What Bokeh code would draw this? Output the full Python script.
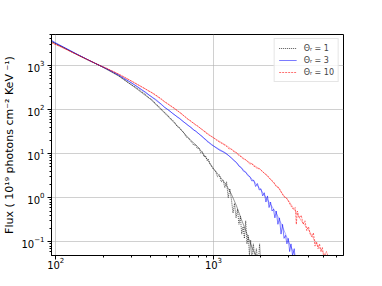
from bokeh.plotting import figure
from bokeh.models import FixedTicker, Legend, LegendItem, Label, LogTickFormatter
from bokeh.embed import file_html
from bokeh.resources import INLINE

# ---- data ----
e_t1 = [94, 100, 110, 120, 135, 150, 170, 190, 210, 230, 250, 270, 290, 310, 330, 350, 370, 390, 410, 430,
        450, 470, 490, 510, 530, 550, 570, 590, 610, 630, 650, 670, 690, 710, 730, 750, 770, 790, 810, 830,
        850, 870, 890, 910, 930, 950, 970, 1000, 1030, 1060, 1090, 1120, 1150, 1180, 1210, 1240, 1270, 1300,
        1330, 1360, 1390, 1420, 1450, 1480, 1510, 1540, 1570, 1600, 1630, 1660, 1690, 1720, 1750, 1790, 1830,
        1870, 1920, 1960, 2000]
f_t1 = [3500, 3100, 2650, 2250, 1800, 1500, 1200, 1000, 840, 700, 590, 485, 400, 345, 300, 255, 222, 185, 165, 135,
        118, 100, 86, 76, 64, 58, 50, 41, 39, 33, 30, 24, 23, 20, 18, 15.5, 16, 13, 13.5, 10.5,
        11, 8.5, 9, 7, 7.4, 5.8, 5.2, 4.4, 4.0, 3.0, 3.3, 2.3, 2.5, 1.7, 2.3, 1.0, 1.6, 0.9,
        0.45, 0.75, 0.35, 0.55, 0.25, 0.38, 0.15, 0.22, 0.12, 0.3, 0.09, 0.14, 0.05, 0.11, 0.04, 0.09, 0.04,
        0.07, 0.03, 0.09, 0.03]

e_t3 = [94, 100, 110, 120, 135, 150, 170, 190, 210, 230, 250, 270, 290, 310, 330, 350, 370, 390, 410, 430,
        450, 470, 490, 510, 530, 550, 570, 590, 610, 630, 650, 670, 690, 710, 730, 750, 770, 790, 810, 830,
        850, 870, 890, 910, 930, 950, 970, 1000, 1050, 1100, 1150, 1200, 1250, 1300, 1350, 1400, 1450, 1500,
        1550, 1600, 1650, 1700, 1750, 1800, 1850, 1900, 1950, 2000, 2050, 2100, 2150, 2200, 2250, 2300, 2350,
        2400, 2450, 2500, 2560, 2620, 2680, 2740, 2800, 2860, 2920, 2980, 3040, 3100, 3170, 3250, 3300]
f_t3 = [3700, 3200, 2700, 2300, 1830, 1520, 1210, 1000, 850, 720, 610, 510, 440, 380, 330, 285, 250, 215, 190, 170,
        148, 130, 112, 102, 92, 82, 75, 68, 63, 57, 52, 48, 44, 41, 38, 34, 33, 30, 28, 26,
        24.5, 22, 21, 19, 18, 17, 16, 15, 13.2, 11.8, 11, 10, 9, 8, 7, 6.3, 5.2, 4.8,
        4.0, 3.8, 3.2, 3.0, 2.4, 2.5, 1.8, 2.1, 1.5, 1.6, 1.1, 1.3, 0.8, 1.1, 0.6, 0.8, 0.5,
        0.55, 0.35, 0.5, 0.25, 0.35, 0.15, 0.25, 0.12, 0.14, 0.09, 0.12, 0.06, 0.09, 0.05, 0.07, 0.04]

e_t10 = [94, 100, 110, 120, 135, 150, 170, 190, 210, 230, 250, 270, 290, 310, 330, 350, 370, 390, 410, 430,
         450, 470, 490, 510, 530, 550, 570, 590, 610, 630, 650, 670, 690, 710, 730, 750, 770, 790, 810, 830,
         850, 870, 890, 910, 930, 950, 970, 1000, 1050, 1100, 1150, 1200, 1250, 1300, 1350, 1400, 1450, 1500,
         1550, 1600, 1650, 1700, 1750, 1800, 1850, 1900, 1950, 2000, 2100, 2200, 2300, 2400, 2500, 2600, 2700,
         2800, 2900, 3000, 3100, 3200, 3300, 3350, 3400, 3500, 3600, 3700, 3800, 3900, 4000, 4100, 4200, 4300,
         4400, 4500, 4600, 4700, 4800, 4900, 5000, 5200, 5400]
f_t10 = [3300, 3000, 2600, 2200, 1800, 1500, 1220, 1000, 870, 740, 640, 550, 480, 420, 370, 330, 295, 262, 240, 215,
         192, 172, 150, 138, 125, 115, 105, 95, 87, 80, 72, 66, 60, 57, 52, 49, 45, 43, 40, 37,
         35, 32, 31, 28, 27, 25, 24.5, 23, 20, 18, 16.5, 15, 13, 12.5, 11, 10.5, 9, 8.5,
         7.5, 7.3, 6.5, 5.8, 6.0, 5.2, 5.0, 4.5, 4.6, 4.2, 3.6, 3.2, 2.6, 2.3, 1.8, 1.7, 1.3,
         1.05, 1.0, 0.8, 0.65, 0.55, 0.6, 0.25, 0.5, 0.35, 0.4, 0.25, 0.3, 0.18, 0.22, 0.15, 0.13, 0.16,
         0.08, 0.1, 0.07, 0.09, 0.06, 0.075, 0.045, 0.06, 0.04]

# smooth fits
s_e1 = [94, 120, 150, 190, 250, 300, 400, 500, 600, 700, 800, 900, 1000, 1100, 1200, 1300, 1400, 1500, 1600, 1700, 1800, 2000]
s_f1 = [3500, 2250, 1500, 1000, 580, 370, 170, 78, 40, 22, 14, 8, 4.6, 3.0, 2.0, 1.2, 0.65, 0.33, 0.18, 0.1, 0.06, 0.035]
s_e3 = [94, 120, 150, 190, 250, 300, 400, 500, 600, 700, 800, 1000, 1200, 1400, 1600, 1800, 2000, 2200, 2500, 2700, 3000, 3200, 3300]
s_f3 = [3700, 2300, 1520, 1000, 610, 410, 200, 107, 65, 42, 29, 15, 10.3, 6.2, 3.8, 2.4, 1.5, 0.9, 0.45, 0.25, 0.1, 0.06, 0.045]
s_e10 = [94, 120, 150, 190, 250, 300, 400, 500, 600, 700, 800, 1000, 1200, 1400, 1600, 1800, 2000, 2300, 2600, 2800, 3000,
         3300, 3600, 4000, 4300, 4600, 5000, 5300]
s_f10 = [3300, 2200, 1500, 1000, 640, 450, 250, 143, 90, 58, 41, 23, 15.5, 10.5, 7.2, 5.5, 4.3, 2.6, 1.6, 1.1, 0.85,
         0.5, 0.3, 0.19, 0.12, 0.08, 0.055, 0.045]

labels = ["\u0398\u1d63 = 1", "\u0398\u1d63 = 3", "\u0398\u1d63 = 10"]

x_major = [100, 1000]
x_minor = [200, 300, 400, 500, 600, 700, 800, 900, 2000, 3000, 4000, 5000, 6000]
y_major = [0.1, 1, 10, 100, 1000]
y_minor = [0.06, 0.07, 0.08, 0.09, 0.2, 0.3, 0.4, 0.5, 0.6, 0.7, 0.8, 0.9,
           2, 3, 4, 5, 6, 7, 8, 9, 20, 30, 40, 50, 60, 70, 80, 90,
           200, 300, 400, 500, 600, 700, 800, 900, 2000, 3000, 4000, 5000]

FONT = "DejaVu Sans"

p = figure(width=382, height=286, x_axis_type="log", y_axis_type="log",
           x_range=(94, 6670), y_range=(0.049, 5050),
           output_backend="svg", toolbar_location=None)
p.min_border_left = 47
p.min_border_right = 39
p.min_border_top = 34
p.min_border_bottom = 31
p.outline_line_color = "black"
p.outline_line_alpha = 1
p.outline_line_width = 1
p.background_fill_color = "white"
p.border_fill_color = "white"

for ax, maj, mnr in ((p.xaxis[0], x_major, x_minor), (p.yaxis[0], y_major, y_minor)):
    ax.ticker = FixedTicker(ticks=maj, minor_ticks=mnr)
    ax.formatter = LogTickFormatter()
    ax.major_tick_in = 0
    ax.major_tick_out = 4
    ax.minor_tick_in = 0
    ax.minor_tick_out = 2
    ax.major_label_text_font = FONT
    ax.major_label_text_font_size = "10px"
    ax.major_label_text_color = "black"
    ax.axis_label_text_font = FONT
    ax.axis_label_text_font_style = "normal"
    ax.axis_label_text_color = "black"
    ax.axis_line_color = "black"

p.xaxis.major_label_standoff = -3
p.yaxis.major_label_standoff = 3

p.yaxis.axis_label = "Flux ( 10\u00b9\u2079 photons cm\u207b\u00b2 KeV \u207b\u00b9)"
p.yaxis.axis_label_text_font_size = "11px"
p.yaxis.axis_label_standoff = 2

p.add_layout(Label(x=769, y=0.01637, text="\u03b5\u2081 [KeV]", text_font=FONT, text_font_size="13px",
                   text_align="center", text_baseline="middle", text_color="black"))

p.xgrid.ticker = FixedTicker(ticks=x_major)
p.ygrid.ticker = FixedTicker(ticks=y_major)
for g in (p.xgrid[0], p.ygrid[0]):
    g.grid_line_color = "#b0b0b0"
    g.grid_line_alpha = 0.6
    g.grid_line_width = 1

r1 = p.line(e_t1, f_t1, line_color="black", line_alpha=0.85, line_width=0.8, line_dash="1 1")
p.line(s_e1, s_f1, line_color="black", line_alpha=0.5, line_width=0.8)
r3 = p.line(e_t3, f_t3, line_color="blue", line_alpha=0.65, line_width=0.8)
p.line(s_e3, s_f3, line_color="blue", line_alpha=0.4, line_width=0.8)
r10 = p.line(e_t10, f_t10, line_color="red", line_alpha=0.7, line_width=0.8, line_dash="2 1")
p.line(s_e10, s_f10, line_color="red", line_alpha=0.4, line_width=0.8)

legend = Legend(items=[LegendItem(label=labels[0], renderers=[r1]),
                       LegendItem(label=labels[1], renderers=[r3]),
                       LegendItem(label=labels[2], renderers=[r10])],
                location="top_right")
legend.label_text_font = FONT
legend.label_text_font_size = "8px"
legend.glyph_width = 18
legend.glyph_height = 10
legend.label_height = 10
legend.label_standoff = 7
legend.spacing = 2
legend.padding = 4
legend.margin = 4
legend.border_line_color = "#cccccc"
legend.border_line_width = 1
legend.background_fill_alpha = 0.8
p.add_layout(legend)

open("out.html", "w", encoding="utf-8").write(file_html(p, INLINE))
